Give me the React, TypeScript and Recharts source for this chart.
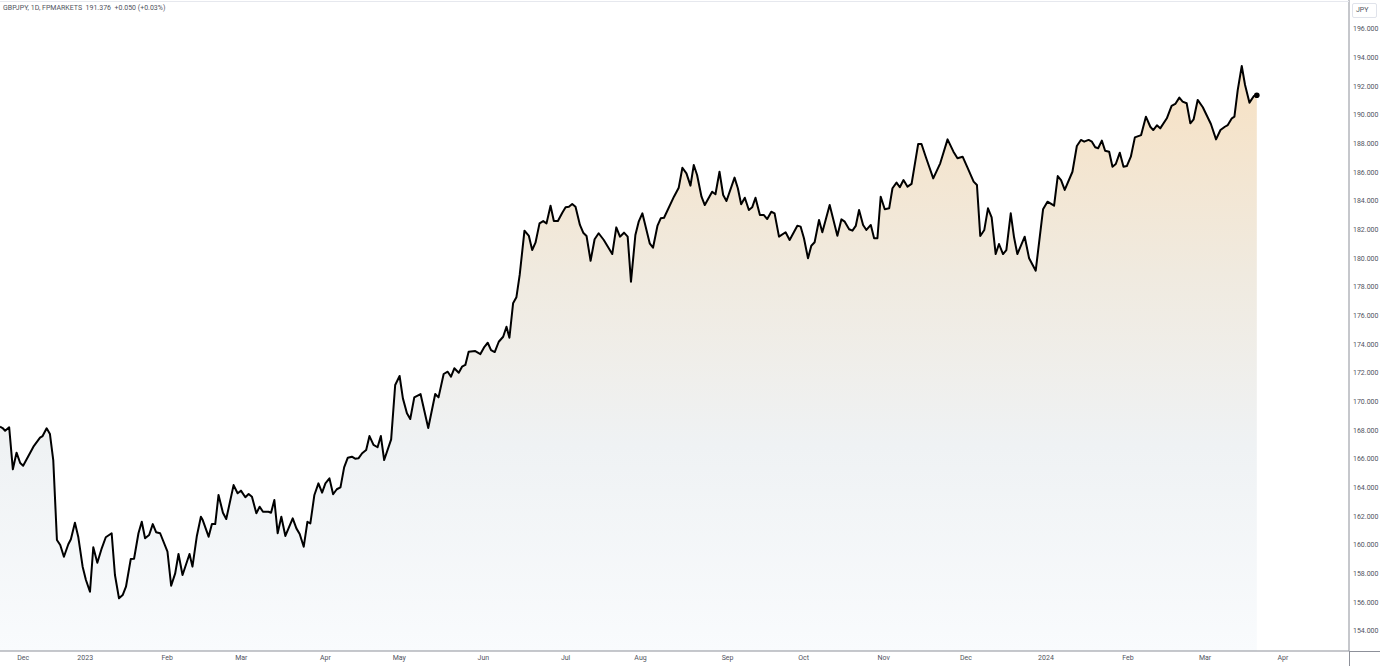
import React from "react";
import { ComposedChart, Area, XAxis, YAxis, ReferenceDot } from "recharts";

// [bar index, close]
const closes2022: [number, number][] = [
  [0, 168.25], [0.7, 168.16], [1.4, 167.97], [2.5, 168.21], [3.5, 165.28],
  [4.5, 166.44], [5.5, 165.72], [6.3, 165.53], [9.1, 166.86], [10.9, 167.49],
  [11.6, 167.6], [12.7, 168.14], [13.6, 167.74], [14.5, 165.93], [15.5, 160.35],
  [16.4, 160.0], [17.4, 159.18], [18.6, 160.05], [19.3, 160.4], [20.4, 161.56],
  [21.3, 160.58], [22.5, 158.49],
];

const closes2023: [number, number][] = [
  [23.4, 157.56], [24.5, 156.74], [25.4, 159.84], [26.5, 158.76], [27.7, 159.77],
  [28.8, 160.54], [30.4, 160.82], [31.3, 157.91], [32.4, 156.28], [33.4, 156.51],
  [34.3, 157.09], [35.6, 159.02], [36.5, 159.04], [37.7, 160.82], [38.6, 161.62],
  [39.5, 160.47], [40.6, 160.7], [41.6, 161.46], [42.5, 160.89], [43.6, 160.82],
  [45.6, 159.53], [46.6, 157.16], [47.7, 158.02], [48.6, 159.37], [49.7, 157.91],
  [51.6, 159.37], [52.4, 158.49], [53.6, 160.63], [54.7, 161.97], [55.2, 161.74],
  [56.8, 160.58], [57.7, 161.46], [58.6, 161.46], [59.5, 163.49], [60.7, 162.25],
  [61.6, 161.81], [63.6, 164.18], [64.7, 163.61], [65.6, 163.79], [66.8, 163.33],
  [67.7, 163.56], [68.6, 163.37], [69.8, 162.21], [70.7, 162.67], [71.6, 162.32],
  [73.1, 162.32], [73.8, 162.25], [74.7, 163.14], [75.6, 160.82], [76.6, 161.97],
  [77.7, 160.63], [79.7, 161.86], [80.7, 161.16], [81.6, 160.77], [82.7, 159.88],
  [83.7, 161.62], [84.5, 161.51], [85.6, 163.49], [86.7, 164.3], [87.7, 163.65],
  [88.6, 164.3], [89.7, 164.65], [90.7, 163.54], [91.7, 163.89], [92.7, 164.02],
  [93.7, 165.42], [94.7, 166.09], [95.8, 166.16], [96.7, 166.02], [97.6, 166.05],
  [98.6, 166.4], [99.7, 166.63], [100.6, 167.6], [101.7, 166.98], [102.8, 166.82],
  [103.7, 167.6], [104.6, 165.93], [106.5, 167.37], [107.6, 171.16], [108.8, 171.79],
  [109.7, 170.23], [110.8, 169.19], [111.7, 168.79], [112.8, 170.3], [114.5, 170.53],
  [116.6, 168.16], [118.5, 170.53], [119.4, 170.3], [120.8, 171.93], [121.9, 172.09],
  [122.8, 171.74], [123.7, 172.33], [124.9, 172.02], [125.8, 172.44], [126.7, 172.56],
  [127.6, 173.49], [129.4, 173.53], [130.8, 173.32], [131.9, 173.83], [132.8, 174.11],
  [133.7, 173.6], [134.7, 173.46], [135.8, 174.18], [137.0, 174.53], [137.9, 175.23],
  [138.7, 174.46], [139.7, 176.86], [140.6, 177.28], [141.5, 178.84], [142.8, 181.93],
  [144.0, 181.56], [144.9, 180.58], [145.8, 181.09], [146.9, 182.44], [147.9, 182.6],
  [148.8, 182.44], [149.9, 183.67], [150.8, 182.6], [151.9, 182.6], [153.1, 183.18],
  [154.0, 183.56], [154.9, 183.6], [155.8, 183.79], [156.7, 183.6], [157.9, 182.33],
  [158.8, 181.79], [159.7, 181.56], [160.8, 179.83], [161.9, 181.33], [163.0, 181.75],
  [164.4, 181.28], [166.7, 180.3], [167.8, 182.16], [168.8, 181.51], [169.9, 181.79],
  [170.9, 181.51], [171.8, 178.37], [173.0, 181.63], [173.9, 182.56], [174.9, 183.14],
  [176.9, 181.05], [177.8, 180.74], [179.0, 182.26], [179.9, 182.79], [180.8, 182.83],
  [183.5, 184.3], [184.8, 184.93], [185.8, 186.32], [186.9, 185.93], [188.0, 185.07],
  [188.9, 186.51], [189.8, 185.81], [191.0, 184.3], [191.9, 183.72], [193.9, 184.65],
  [194.8, 184.47], [195.9, 186.04], [196.9, 184.42], [197.8, 184.0], [200.0, 185.63],
  [200.9, 184.89], [201.8, 183.77], [202.8, 184.23], [203.9, 183.37], [204.8, 183.56],
  [205.7, 184.23], [206.9, 183.02], [208.0, 183.02], [208.9, 182.74], [210.0, 183.25],
  [210.9, 183.14], [212.1, 181.51], [213.9, 181.82], [215.0, 181.28], [217.1, 182.28],
  [218.0, 182.21], [218.9, 181.4], [220.0, 180.0], [220.9, 180.88], [221.8, 181.12],
  [223.0, 182.67], [223.9, 181.82], [225.9, 183.72], [228.0, 181.58], [229.1, 182.72],
  [230.0, 182.56], [231.2, 182.03], [232.1, 181.93], [233.0, 182.26], [233.9, 183.37],
  [235.0, 182.33], [235.9, 181.98], [237.1, 182.33], [238.0, 181.4], [238.9, 181.4],
  [239.8, 184.3], [240.9, 183.42], [242.1, 183.49], [243.0, 184.89], [244.1, 185.28],
  [245.0, 184.96], [246.0, 185.46], [247.1, 185.0], [248.2, 185.19], [250.0, 187.98],
  [250.9, 187.98], [252.1, 187.05], [253.0, 186.39], [254.1, 185.58], [256.0, 186.63],
  [258.0, 188.3], [259.6, 187.44], [260.7, 186.98], [262.1, 187.09], [263.4, 186.35],
  [265.1, 185.35], [266.0, 185.12], [266.9, 181.56], [268.0, 181.98], [269.0, 183.49],
  [270.0, 182.86], [271.1, 180.3], [272.0, 181.0], [273.1, 180.3], [274.0, 180.58],
  [275.2, 183.14], [276.1, 181.47], [277.0, 180.3], [279.0, 181.51], [280.2, 180.0],
  [282.0, 179.14], [284.0, 183.42],
];

const closes2024: [number, number][] = [
  [285.2, 183.95], [287.0, 183.67], [288.0, 185.74], [288.9, 185.46], [289.9, 184.77],
  [292.0, 186.04], [293.2, 187.84], [294.3, 188.26], [295.2, 188.14], [296.4, 188.26],
  [297.3, 188.14], [298.2, 187.75], [299.0, 187.68], [300.0, 188.21], [300.9, 187.51],
  [302.0, 187.44], [302.9, 186.39], [303.8, 186.58], [304.9, 187.37], [305.9, 186.39],
  [306.8, 186.44], [307.9, 187.09], [309.0, 188.44], [310.7, 188.6], [312.0, 189.88],
  [313.2, 189.18], [314.0, 188.95], [315.0, 189.28], [315.9, 189.07], [317.7, 189.77],
  [319.0, 190.63], [320.0, 190.77], [321.1, 191.21], [322.0, 190.93], [323.1, 190.82],
  [324.1, 189.42], [325.0, 189.7], [326.1, 191.05], [327.5, 190.54], [329.7, 189.37],
  [331.1, 188.3], [332.3, 188.95], [333.5, 189.18], [334.3, 189.3], [335.4, 189.77],
  [336.1, 189.88], [337.0, 191.74], [338.1, 193.42], [339.0, 192.09], [340.2, 190.86],
  [341.4, 191.33], [342.2, 191.376],
];

const monthTicks = [
  6.3, 23.2, 45.5, 65.7, 88.6, 108.7, 131.6, 154.0, 174.4,
  198.1, 218.8, 240.6, 263.0, 284.8, 307.1, 328.1, 349.3,
];
const monthLabels = [
  "Dec", "2023", "Feb", "Mar", "Apr", "May", "Jun", "Jul", "Aug",
  "Sep", "Oct", "Nov", "Dec", "2024", "Feb", "Mar", "Apr",
];
const priceTicks = [
  154, 156, 158, 160, 162, 164, 166, 168, 170, 172, 174,
  176, 178, 180, 182, 184, 186, 188, 190, 192, 194, 196,
];

const W = 1380;
const H = 666;
const AXIS_W = 31;
const AXIS_H = 15;
const AXIS_COLOR = "#8d9099";
const TEXT_COLOR = "#50535e";
const FONT = "Roboto, 'Liberation Sans', sans-serif";

const data = [...closes2022, ...closes2023, ...closes2024].map(([bar, close]) => ({ bar, close }));
const last = data[data.length - 1];

export default function App() {
  return (
    <div style={{ position: "fixed", left: 0, top: 0, width: W, height: H, background: "#fff", fontFamily: FONT }}>
      <ComposedChart width={W} height={H} data={data} margin={{ top: 0, right: 0, bottom: 0, left: 0 }}>
        <defs>
          <linearGradient id="fillGrad" x1="0" y1="0" x2="0" y2="1">
            <stop offset="0%" stopColor="#f7e1c3" />
            <stop offset="35%" stopColor="#f0eadf" />
            <stop offset="65%" stopColor="#eff2f4" />
            <stop offset="100%" stopColor="#f9fbfd" />
          </linearGradient>
        </defs>
        <XAxis
          dataKey="bar"
          type="number"
          domain={[0, 367.3]}
          allowDataOverflow
          ticks={monthTicks}
          interval={0}
          tickFormatter={(v: number) => monthLabels[monthTicks.indexOf(v)] ?? ""}
          height={AXIS_H}
          tickSize={0}
          tickMargin={4}
          axisLine={{ stroke: AXIS_COLOR }}
          tickLine={false}
          tick={{ fontSize: 7, fill: TEXT_COLOR, fontFamily: FONT }}
        />
        <YAxis
          orientation="right"
          type="number"
          domain={[152.605, 198.023]}
          allowDataOverflow
          ticks={priceTicks}
          interval={0}
          tickFormatter={(v: number) => v.toFixed(3)}
          width={AXIS_W}
          tickSize={0}
          tickMargin={4}
          axisLine={{ stroke: AXIS_COLOR }}
          tickLine={false}
          tick={{ fontSize: 7, fill: TEXT_COLOR, fontFamily: FONT }}
        />
        <Area
          type="linear"
          dataKey="close"
          stroke="#000"
          strokeWidth={2}
          strokeLinejoin="round"
          fill="url(#fillGrad)"
          fillOpacity={1}
          dot={false}
          activeDot={false}
          isAnimationActive={false}
        />
        <ReferenceDot x={last.bar} y={last.close} r={2.8} fill="#000" stroke="none" />
      </ComposedChart>

      {/* axis line continuations past the corner */}
      <div style={{ position: "absolute", left: W - AXIS_W, top: H - AXIS_H, width: AXIS_W, height: 1, background: AXIS_COLOR }} />
      <div style={{ position: "absolute", left: W - AXIS_W, top: H - AXIS_H, width: 1, height: AXIS_H, background: AXIS_COLOR }} />
      <div style={{ position: "absolute", left: 0, top: 1, width: W - AXIS_W, height: 1, background: "#e6e8ee" }} />

      <div style={{ position: "absolute", left: 3, top: 4, fontSize: 7, color: TEXT_COLOR, whiteSpace: "pre" }}>
        {"GBPJPY, 1D, FPMARKETS  191.376  +0.050 (+0.03%)"}
      </div>
      <div
        style={{
          position: "absolute",
          left: W - AXIS_W + 3,
          top: 3,
          width: 25,
          height: 15,
          border: "1px solid #e0e3eb",
          borderRadius: 2,
          boxSizing: "border-box",
          fontSize: 7,
          color: TEXT_COLOR,
          lineHeight: "13px",
          paddingLeft: 3,
        }}
      >
        JPY
      </div>
    </div>
  );
}
